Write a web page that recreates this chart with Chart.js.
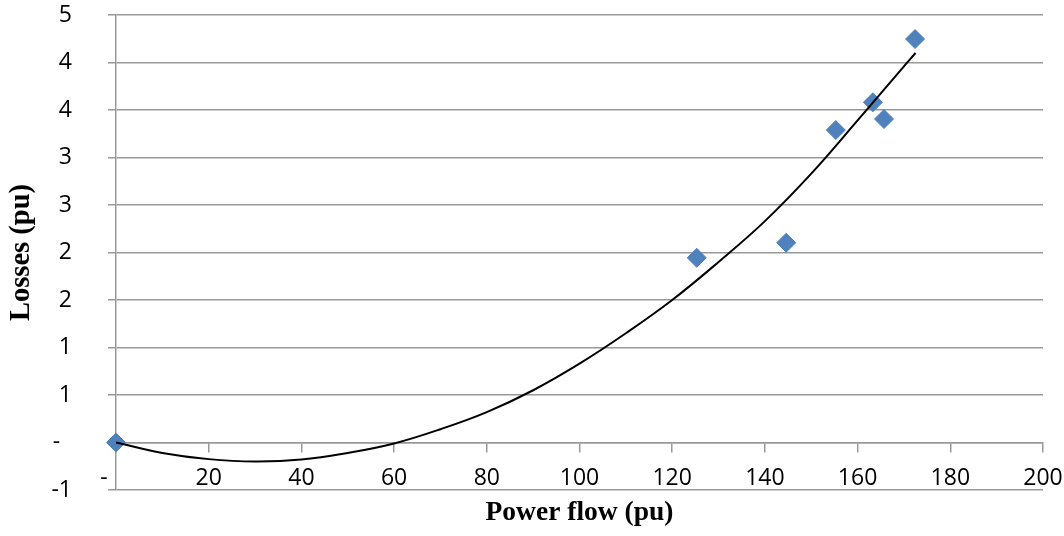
<!DOCTYPE html>
<html>
<head>
<meta charset="utf-8">
<script src="https://cdn.jsdelivr.net/npm/chart.js@4"></script>
<style>
  html, body { margin: 0; padding: 0; background: #fff; }
</style>
</head>
<body>
<canvas id="lossChart" width="1064" height="536"></canvas>
<script>
// Measured points (power flow, losses)
const flowValues = [0, 125.3, 144.6, 155.3, 163.3, 165.7, 172.4];
const lossValues = [0, 1.944, 2.103, 3.289, 3.581, 3.405, 4.247];

// Trendline
const trendFlow = [0, 10, 20, 30, 40, 50, 60, 70, 80, 90, 100, 110, 120, 130, 140, 150, 160, 170, 172.5];
const trendLoss = [0, -0.11, -0.175, -0.2, -0.18, -0.11, -0.01, 0.14, 0.32, 0.55, 0.83, 1.15, 1.5, 1.9, 2.33, 2.83, 3.39, 3.96, 4.1];

const xLimits = [0, 200];
const yLimits = [-0.5, 4.5];

const gridColor = "#999999";
const tickFont = { family: "'Open Sans', 'Liberation Sans', sans-serif", size: 23 };
const titleFont = { family: "'Liberation Serif', 'Times New Roman', serif", size: 27.5, weight: "bold" };

function toPoints(xs, ys) {
  return xs.map((x, i) => ({ x: x, y: ys[i] }));
}

// Excel-style whole-number labels, zero shown as a dash
function yLabel(value) {
  if (value === 0) return "-  ";
  return String(Math.sign(value) * Math.round(Math.abs(value)));
}

function xLabel(value) {
  if (value === 0) return "-    ";
  return String(value);
}

// keep label overhang from shrinking the plot area
function noPadding(scale) {
  scale.paddingLeft = 0;
  scale.paddingRight = 0;
  scale.paddingTop = 0;
  scale.paddingBottom = 0;
}

const ctx = document.getElementById("lossChart").getContext("2d");

new Chart(ctx, {
  type: "scatter",
  data: {
    datasets: [
      {
        label: "Trend",
        data: toPoints(trendFlow, trendLoss),
        showLine: true,
        borderColor: "#000000",
        borderWidth: 2,
        pointRadius: 0,
        tension: 0.4,
        fill: false,
        clip: false
      },
      {
        label: "Losses",
        data: toPoints(flowValues, lossValues),
        pointStyle: "rectRot",
        pointRadius: 9.5,
        pointBackgroundColor: "#4F81BD",
        pointBorderColor: "#4F81BD",
        pointBorderWidth: 1,
        clip: false
      }
    ]
  },
  options: {
    responsive: false,
    animation: false,
    layout: { padding: { left: 5, right: 21, top: 15, bottom: 7 } },
    plugins: {
      legend: { display: false },
      tooltip: { enabled: false }
    },
    scales: {
      // bottom axis only carries the title
      x: {
        type: "linear",
        position: "bottom",
        min: xLimits[0],
        max: xLimits[1],
        grid: { display: false },
        border: { display: false },
        ticks: { display: false, stepSize: 20 },
        title: {
          display: true,
          text: "Power flow (pu)",
          color: "#000000",
          font: titleFont,
          padding: { top: 0, bottom: 0 }
        },
        afterFit: function (scale) {
          scale.height = 39;
          noPadding(scale);
        }
      },
      // axis line crossing at y = 0, with the labels
      x0: {
        type: "linear",
        position: { y: 0 },
        min: xLimits[0],
        max: xLimits[1],
        grid: {
          drawOnChartArea: false,
          drawTicks: true,
          tickLength: 9,
          color: gridColor,
          lineWidth: 1.5
        },
        border: { display: true, color: gridColor, width: 1.5 },
        ticks: {
          stepSize: 20,
          padding: 13,
          color: "#000000",
          font: tickFont,
          maxRotation: 0,
          autoSkip: false,
          callback: xLabel
        },
        afterFit: function (scale) {
          scale.height = 0;
          noPadding(scale);
        }
      },
      y: {
        type: "linear",
        position: "left",
        min: yLimits[0],
        max: yLimits[1],
        grid: {
          color: gridColor,
          lineWidth: 1.5,
          drawTicks: true,
          tickLength: 8
        },
        border: { display: true, color: gridColor, width: 1.5 },
        ticks: {
          stepSize: 0.5,
          padding: 36,
          color: "#000000",
          font: tickFont,
          callback: yLabel
        },
        title: {
          display: true,
          text: "Losses (pu)",
          color: "#000000",
          font: { family: titleFont.family, size: 28.5, weight: "bold" },
          padding: { top: 0, bottom: 0 }
        },
        afterFit: function (scale) {
          scale.width = 111;
          noPadding(scale);
        }
      }
    }
  }
});
</script>
</body>
</html>
